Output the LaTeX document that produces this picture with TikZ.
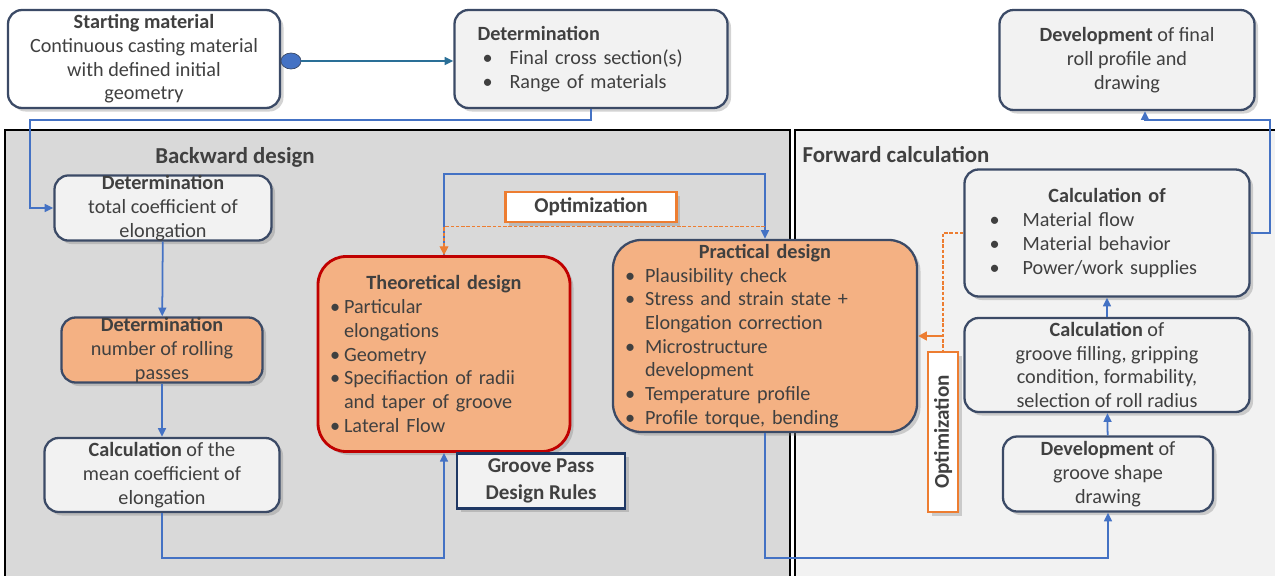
\documentclass[tikz,border=0pt]{standalone}
\usepackage{fontspec}
\setmainfont{Carlito}
\usetikzlibrary{positioning,shadows,arrows.meta,shapes.geometric}
\definecolor{boxline}{HTML}{3B4A66}
\definecolor{linkblue}{HTML}{4472C4}
\definecolor{tealline}{HTML}{2A6F97}
\definecolor{orfill}{HTML}{F4B183}
\definecolor{orline}{HTML}{ED7D31}
\definecolor{redline}{HTML}{C00000}
\definecolor{navy}{HTML}{1F3864}
\definecolor{panelgray}{HTML}{D9D9D9}
\definecolor{panellight}{HTML}{F2F2F2}
\definecolor{boxfill}{HTML}{F2F2F2}
\definecolor{txt}{HTML}{404040}
\newcommand{\bul}[1]{\makebox[#1][l]{\textbullet}}
\begin{document}
\begin{tikzpicture}[x=0.02cm, y=-0.02cm,
  font=\fontsize{11.5}{13.5}\selectfont,
  sz/.style 2 args={minimum width=#1*0.02cm, minimum height=#2*0.02cm},
  box/.style={draw=boxline, line width=1.3pt, rounded corners=8pt, fill=boxfill,
    text=txt, align=center, inner sep=2pt,
    drop shadow={shadow xshift=2pt, shadow yshift=-2pt, opacity=.35}},
  orbox/.style={box, fill=orfill},
  bigbox/.style={orbox, rounded corners=16pt, align=left},
  optbox/.style={draw=orline, line width=1.5pt, fill=white, text=txt, inner sep=1pt,
    font=\fontsize{12}{14}\selectfont\bfseries,
    drop shadow={shadow xshift=2pt, shadow yshift=-2pt, opacity=.35}},
  rulebox/.style={draw=navy, line width=1.6pt, fill=boxfill, text=txt, align=center,
    font=\fontsize{12}{15}\selectfont\bfseries,
    drop shadow={shadow xshift=2pt, shadow yshift=-2pt, opacity=.35}},
  link/.style={draw=linkblue, line width=1pt, -{Triangle[length=5pt,width=4.5pt]}},
  optlink/.style={draw=orline, line width=0.7pt, dash pattern=on 2pt off 1pt},
  optarrow/.style={draw=orline, line width=1.2pt, -{Triangle[length=5pt,width=5pt]}},
  paneltitle/.style={font=\fontsize{13}{15}\selectfont\bfseries, text=txt}
]
\useasboundingbox (0,0) rectangle (1275,575);

% panels
\fill[panelgray] (5,130) rectangle (790,580);
\draw[line width=1.5pt] (5,580) |- (790,130) -- (790,580);
\fill[panellight] (795,130) rectangle (1280,580);
\draw[line width=1.5pt] (795,580) |- (1280,130);
\node[paneltitle] (bwd) at (235,157) {Backward design};
\node[paneltitle] (fwd) at (896,155) {Forward calculation};

% top row
\node[box, fill=white, sz={272}{98}] (start) at (144,59)
  {{\bfseries Starting material}\\Continuous casting material\\with defined initial\\geometry};
\node[ellipse, fill=linkblue, draw=boxline, minimum width=0.4cm, minimum height=0.32cm, inner sep=0pt] (dot) at (291,61) {};
\node[box, sz={273}{98}, align=left, inner xsep=0.46cm, text width=4.54cm] (detA) at (591,59)
  {{\bfseries Determination}\\
   \hspace{0.1cm}\bul{0.54cm}Final cross section(s)\\
   \hspace{0.1cm}\bul{0.54cm}Range of materials};
\node[box, sz={255}{100}] (final) at (1127,60)
  {{\bfseries Development} of final\\roll profile and\\drawing};

% backward design
\node[box, sz={217}{63}, inner ysep=0pt] (detB) at (163,208)
  {{\bfseries Determination}\\total coefficient of\\elongation};
\node[orbox, sz={201}{65}, inner ysep=0pt] (passes) at (162,350)
  {{\bfseries Determination}\\number of rolling\\passes};
\node[box, sz={235}{74}] (mean) at (162,475)
  {{\bfseries Calculation} of the\\mean coefficient of\\elongation};
\node[bigbox, draw=redline, line width=1.6pt, sz={252}{195}, inner xsep=0.24cm, text width=4.56cm] (theo) at (444,354)
  {\makebox[4.56cm]{\bfseries Theoretical design}\\
   \bul{0.28cm}Particular\\
   \hspace{0.28cm}elongations\\
   \bul{0.28cm}Geometry\\
   \bul{0.28cm}Specifiaction of radii\\
   \hspace{0.28cm}and taper of groove\\
   \bul{0.28cm}Lateral Flow};
\node[rulebox, sz={168}{53}] (rules) at (541,481) {Groove Pass\\Design Rules};
\node[optbox, sz={171}{30}] (optH) at (591,207) {Optimization};
\node[bigbox, sz={304}{192}, inner xsep=0.24cm, text width=5.6cm] (prac) at (765,336)
  {\makebox[5.6cm]{\bfseries Practical design}\\
   \bul{0.4cm}Plausibility check\\
   \bul{0.4cm}Stress and strain state +\\
   \hspace{0.4cm}Elongation correction\\
   \bul{0.4cm}Microstructure\\
   \hspace{0.4cm}development\\
   \bul{0.4cm}Temperature profile\\
   \bul{0.4cm}Profile torque, bending};

% forward calculation
\node[box, sz={285}{127}, align=left, inner xsep=0.5cm, text width=4.7cm] (calcA) at (1107,233)
  {\makebox[4.7cm]{\bfseries Calculation of}\\
   \bul{0.66cm}Material flow\\
   \bul{0.66cm}Material behavior\\
   \bul{0.66cm}Power/work supplies};
\node[box, sz={285}{94}, inner ysep=0pt] (calcB) at (1107,365)
  {{\bfseries Calculation} of\\groove filling, gripping\\condition, formability,\\selection of roll radius};
\node[box, sz={210}{75}] (devG) at (1108,474)
  {{\bfseries Development} of\\groove shape\\drawing};
\node[optbox, rotate=90, sz={160}{30}] (optV) at (943,432) {Optimization};

% connectors
\draw[link, draw=tealline] (dot) -- (dot -| detA.west);
\draw[link] (detA.south) |- (30,120) |- (detB.west);
\draw[link] (detB) -- (passes);
\draw[link] (passes) -- (mean);
\draw[link] (mean.south) -- ++(0,45) -| (theo.south);
\draw[link] (theo.north) -- ++(0,-81) -| (prac.north);
\draw[optlink, -{Triangle[length=5pt,width=5pt]}] (prac.north) ++(0,-12) -| (theo.north);
\draw[link] (prac.south) -- ++(0,125) -| (devG.south);
\draw[link] (devG) -- (calcB);
\draw[link] (calcB) -- (calcA);
\draw[link] (calcA.east) -| (1270,120) -| ([xshift=0.36cm]final.south);
\draw[optlink] (calcA.west) -| (optV.east);
\draw[optarrow] (optV.east |- prac.east) -- (prac.east);
\end{tikzpicture}
\end{document}
